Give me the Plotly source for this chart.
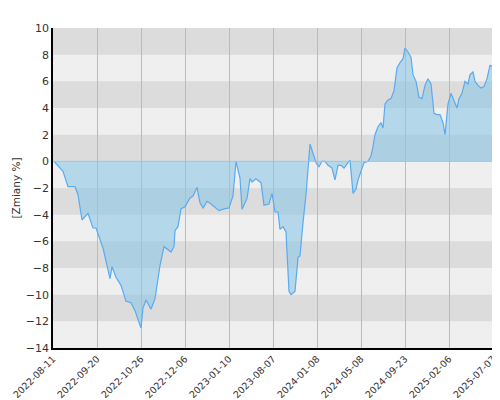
import plotly.graph_objects as go

# horizontal position along time axis (axis units) and change values (%)
t = [1,10,15,22,25,29,35,40,43,50,57,59,63,68,73,78,82,88,90,93,98,102,107,111,118,121,122,125,128,132,137,140,144,147,150,154,158,166,172,176,180,183,187,189,194,197,199,203,208,211,216,219,222,225,227,230,233,236,238,242,245,247,250,253,257,260,263,266,269,272,275,279,282,285,288,291,294,297,300,303,305,308,311,315,318,320,322,325,328,330,332,335,338,341,344,347,350,352,355,358,360,363,366,369,372,375,378,381,384,387,390,392,395,398,401,404,406,409,412,415,417,420,422,425,428,431,434,437,440,443,446,449,451]
v = [0,-0.75,-1.9,-1.9,-2.5,-4.4,-3.9,-5,-5,-6.5,-8.8,-7.9,-8.7,-9.3,-10.5,-10.6,-11.2,-12.5,-11,-10.4,-11.1,-10.3,-7.8,-6.4,-6.8,-6.4,-5.2,-4.9,-3.55,-3.4,-2.75,-2.6,-1.95,-3.1,-3.5,-3.0,-3.2,-3.7,-3.55,-3.5,-2.6,0,-1.25,-3.6,-2.8,-1.3,-1.55,-1.3,-1.6,-3.3,-3.2,-2.4,-3.8,-3.8,-5.1,-4.9,-5.3,-9.75,-10,-9.75,-7.2,-7.1,-4.6,-2.5,1.3,0.5,-0.1,-0.4,0,0,-0.3,-0.5,-1.4,-0.3,-0.3,-0.5,-0.2,0.1,-2.4,-2.1,-1.4,-0.8,-0.1,0,0.4,1.1,2.0,2.6,2.9,2.5,4.3,4.6,4.7,5.3,7.0,7.4,7.7,8.5,8.2,7.8,6.5,6.0,4.8,4.7,5.7,6.2,5.8,3.6,3.5,3.5,2.9,2.0,4.3,5.1,4.5,4.0,4.7,5.1,6.0,5.8,6.5,6.7,6.0,5.7,5.5,5.6,6.2,7.2,7.1,7.3,7.8,9.0,9.0]
tick_pos = [0,44,88,132,176,220,264,308,352,396,440]
tick_labels = ["2022-08-11","2022-09-20","2022-10-26","2022-12-06","2023-01-10","2023-08-07","2024-01-08","2024-05-08","2024-09-23","2025-02-06","2025-07-07"]
dark_bands = [(8,10),(4,6),(0,2),(-4,-2),(-8,-6),(-12,-10)]

fig = go.Figure()
fig.add_trace(go.Scatter(x=t, y=v, mode="lines", fill="tozeroy",
                         fillcolor="rgba(140,200,230,0.6)",
                         line=dict(color="#5aaaf0", width=1.2)))
shapes = [dict(type="rect", xref="paper", x0=0, x1=1, yref="y", y0=a, y1=b,
               fillcolor="#dcdcdc", line_width=0, layer="below") for a, b in dark_bands]
shapes.append(dict(type="line", xref="paper", x0=0, x1=1, yref="y", y0=0, y1=0,
                   line=dict(color="#8ccbe8", width=1)))
fig.update_layout(
    width=500, height=400, margin=dict(l=45, r=2, t=20, b=60),
    plot_bgcolor="#efefef", paper_bgcolor="white", showlegend=False,
    shapes=shapes, font=dict(family="DejaVu Sans", size=11, color="#333"),
    xaxis=dict(range=[0,453], tickvals=tick_pos, ticktext=tick_labels, tickangle=-45,
               showgrid=True, gridcolor="#bbbbbb", gridwidth=1, zeroline=False, automargin=False,
               showline=True, linecolor="black", linewidth=1.5, ticks="", tickfont=dict(size=9.5)),
    yaxis=dict(range=[-14,10], dtick=2, showgrid=False, zeroline=False, automargin=False,
               showline=True, linecolor="black", linewidth=1.5, ticks="",
               title=dict(text="[Zmiany %]", standoff=3, font=dict(size=10.5))),
)
fig.write_html("out.html")
